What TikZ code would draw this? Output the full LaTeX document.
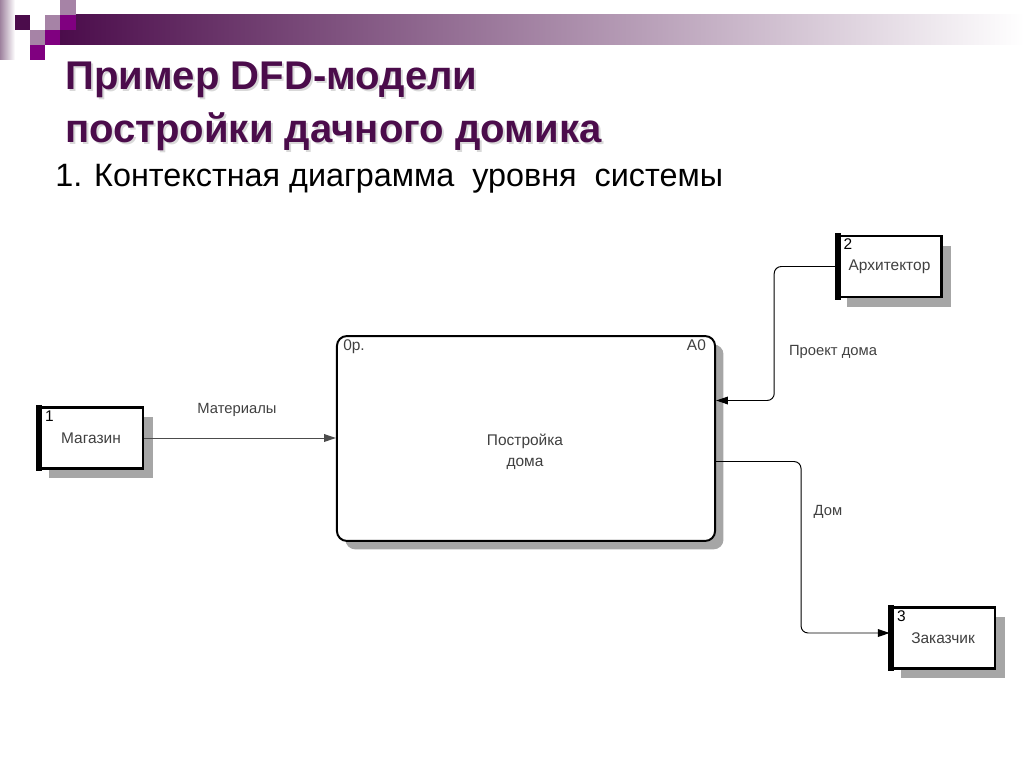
\documentclass[tikz,border=0pt]{standalone}
\usepackage{fontspec}
\setmainfont{Liberation Sans}
\usetikzlibrary{arrows.meta,calc,shadows}
\definecolor{plum}{RGB}{75,12,75}
\definecolor{mauve}{RGB}{166,131,166}
\definecolor{purp}{RGB}{128,0,128}
\definecolor{txt}{RGB}{64,64,64}
\tikzset{
  ext/.style={draw, line width=1.8pt, fill=white, minimum width=2.6cm,
    minimum height=1.53cm, inner sep=0pt, text=txt,
    font=\fontsize{11}{13}\selectfont,
    drop shadow={shadow xshift=7pt, shadow yshift=-7pt, fill=black!35, opacity=1}},
  proc/.style={draw, line width=1.4pt, rounded corners=7pt, fill=white,
    minimum width=9.45cm, minimum height=5.12cm, inner sep=0pt,
    drop shadow={shadow xshift=6pt, shadow yshift=-6pt, fill=black!35, opacity=1}},
  num/.style={anchor=north west, inner sep=0pt, xshift=5pt, yshift=-3pt, text=black, font=\fontsize{11}{13}\selectfont},
  flow/.style={-{Triangle[length=8.5pt,width=5.5pt]}, line width=0.7pt, rounded corners=5pt},
  lbl/.style={text=txt, font=\fontsize{10.5}{12}\selectfont},
  ttl/.style={anchor=base west, inner sep=0pt, font=\fontsize{28.5}{30}\selectfont\bfseries},
}
\begin{document}
\begin{tikzpicture}[x=0.025cm, y=-0.025cm]
  \useasboundingbox (0,0) rectangle (1024,768);
  % header band and squares
  \shade[left color=mauve!80!gray, right color=white] (0,0) rectangle (15,60);
  \shade[left color=plum, middle color=black!33, right color=white] (60,15) rectangle (1024,45);
  \fill[mauve] (60,0) rectangle (76,15);
  \fill[plum] (15,15) rectangle (30,30);
  \fill[mauve] (45,15) rectangle (60,30);
  \fill[purp] (60,15) rectangle (76,30);
  \fill[mauve] (30,30) rectangle (45,45);
  \fill[purp] (45,30) rectangle (60,45);
  \fill[purp] (30,45) rectangle (45,60);
  % title
  \node[ttl, text=black!15] (t1s) at (67,92) {Пример DFD-модели};
  \node[ttl, text=plum] (t1) at (65,90) {Пример DFD-модели};
  \node[ttl, text=black!15] (t2s) at (67,145) {постройки дачного домика};
  \node[ttl, text=plum] (t2) at (65,143) {постройки дачного домика};
  \node[anchor=base west, inner sep=0pt, font=\fontsize{23}{26}\selectfont] (sub) at (55,187)
    {1. Контекстная диаграмма \ уровня \ системы};

  % nodes
  \node[proc] (pr) at (526,438.5) {};
  \node[ext] (mag) at (91,438) {Магазин};
  \node[ext] (arch) at (889.5,266.5) {Архитектор};
  \node[ext] (cust) at (943,638) {Заказчик};
  \foreach \n in {mag,arch,cust}
    \draw[line width=4pt, shorten <=-0.9pt, shorten >=-0.9pt]
      ([xshift=1.1pt]\n.north west) -- ([xshift=1.1pt]\n.south west);
  \node[num] (n1) at (mag.north west) {1};
  \node[num] (n2) at (arch.north west) {2};
  \node[num] (n3) at (cust.north west) {3};
  \node[num, text=txt] (cost) at (pr.north west) {0р.};
  \node[anchor=north east, inner sep=0pt, xshift=-7pt, yshift=-3pt, text=txt, font=\fontsize{11}{13}\selectfont] (a0) at (pr.north east) {A0};
  \node[align=center, text=txt, font=\fontsize{11}{15}\selectfont] (prt) at (525,452) {Постройка\\дома};

  % flows
  \draw[flow, black!70] (mag.east) -- (mag.east -| pr.west);
  \draw[flow] (arch.west) -- ++(-62,0) |- ($(pr.east)+(0,-38)$);
  \draw[flow] ($(pr.east)+(0,23)$) -- ++(85,0) |- ($(cust.west)+(0,-5)$);
  \node[lbl] (lmat) at (237,410) {Материалы};
  \node[lbl] (lproj) at (833,352) {Проект дома};
  \node[lbl] (lhome) at (828,512) {Дом};
\end{tikzpicture}
\end{document}
